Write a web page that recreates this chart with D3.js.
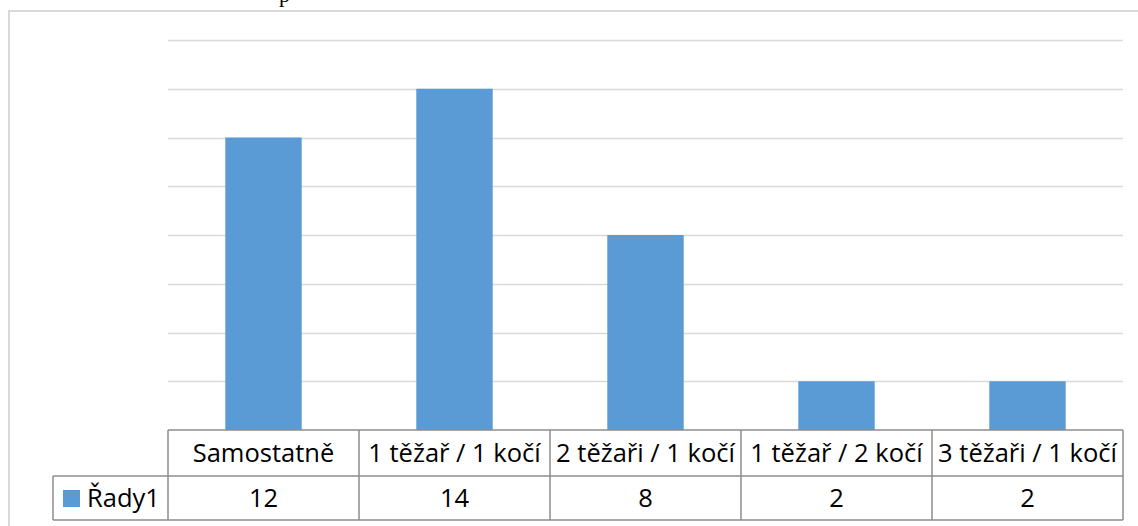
<!DOCTYPE html>
<html>
<head>
<meta charset="utf-8">
<script src="https://cdn.jsdelivr.net/npm/d3@7"></script>
<style>
  html, body { margin: 0; padding: 0; background: #fff; }
  svg { display: block; }
</style>
</head>
<body>
<svg id="chart" width="1138" height="526"></svg>
<script>
// Categories and counts for the column chart with data table
const categories = ["Samostatně", "1 těžař / 1 kočí", "2 těžaři / 1 kočí", "1 těžař / 2 kočí", "3 těžaři / 1 kočí"];
const values = [12, 14, 8, 2, 2];
const seriesName = "Řady1";
const yTicks = [0, 2, 4, 6, 8, 10, 12, 14, 16];

const svg = d3.select("#chart");
const W = 1138, H = 526;
const plot = { left: 168, right: 1123, top: 40, bottom: 430 };
const rowH1 = 46, rowH2 = 44;
const legendLeft = 53;
const font = "'Open Sans', 'Noto Sans', sans-serif";
const fontSize = 25.5;
const barColor = "#5b9bd5";
const gridColor = "#d9d9d9";
const tableColor = "#8c8c8c";

// Fragment of the surrounding document text, clipped at the top edge
svg.append("text")
  .attr("x", 279).attr("y", 2)
  .attr("font-family", "'Liberation Serif', serif")
  .attr("font-size", 22)
  .attr("fill", "#000")
  .text("p");

// Chart area frame
svg.append("rect")
  .attr("x", 9).attr("y", 11)
  .attr("width", W + 10).attr("height", H + 10)
  .attr("fill", "none")
  .attr("stroke", gridColor)
  .attr("stroke-width", 2);

const x = d3.scaleBand().domain(categories).range([plot.left, plot.right]).paddingInner(0).paddingOuter(0);
const y = d3.scaleLinear().domain([0, 16]).range([plot.bottom, plot.top]);

// Horizontal gridlines
svg.append("g")
  .selectAll("line")
  .data(yTicks.slice(1))
  .join("line")
  .attr("x1", plot.left).attr("x2", plot.right)
  .attr("y1", d => Math.round(y(d)) + 0.5).attr("y2", d => Math.round(y(d)) + 0.5)
  .attr("stroke", gridColor)
  .attr("stroke-width", 1.5);

// Columns
const barW = x.bandwidth() * 0.4;
svg.append("g")
  .selectAll("rect")
  .data(categories)
  .join("rect")
  .attr("x", (d) => x(d) + (x.bandwidth() - barW) / 2)
  .attr("y", (d, i) => y(values[i]))
  .attr("width", barW)
  .attr("height", (d, i) => y(0) - y(values[i]))
  .attr("fill", barColor);

// Data table below the plot
const t = svg.append("g").attr("stroke", tableColor).attr("stroke-width", 1.5).attr("fill", "none");
const r0 = plot.bottom, r1 = plot.bottom + rowH1, r2 = r1 + rowH2;
t.append("line").attr("x1", plot.left).attr("x2", plot.right).attr("y1", r0).attr("y2", r0);
t.append("line").attr("x1", legendLeft).attr("x2", plot.right).attr("y1", r1).attr("y2", r1);
t.append("line").attr("x1", legendLeft).attr("x2", plot.right).attr("y1", r2).attr("y2", r2);
t.append("line").attr("x1", legendLeft).attr("x2", legendLeft).attr("y1", r1).attr("y2", r2);
const edges = categories.map(c => x(c)).concat([plot.right]);
t.selectAll(".v").data(edges).join("line")
  .attr("x1", d => d).attr("x2", d => d)
  .attr("y1", r0).attr("y2", r2);

const txt = svg.append("g")
  .attr("font-family", font)
  .attr("font-size", fontSize)
  .attr("fill", "#000")
  .attr("text-anchor", "middle");

txt.selectAll(".cat").data(categories).join("text")
  .attr("x", d => x(d) + x.bandwidth() / 2)
  .attr("y", r0 + 32)
  .text(d => d);

txt.selectAll(".val").data(values).join("text")
  .attr("x", (d, i) => x(categories[i]) + x.bandwidth() / 2)
  .attr("y", r1 + 31)
  .text(d => d);

// Legend key inside the table
svg.append("rect")
  .attr("x", 63).attr("y", 490)
  .attr("width", 17).attr("height", 17)
  .attr("fill", barColor);
svg.append("text")
  .attr("x", 87).attr("y", r1 + 31)
  .attr("font-family", font)
  .attr("font-size", fontSize)
  .attr("fill", "#000")
  .text(seriesName);
</script>
</body>
</html>
